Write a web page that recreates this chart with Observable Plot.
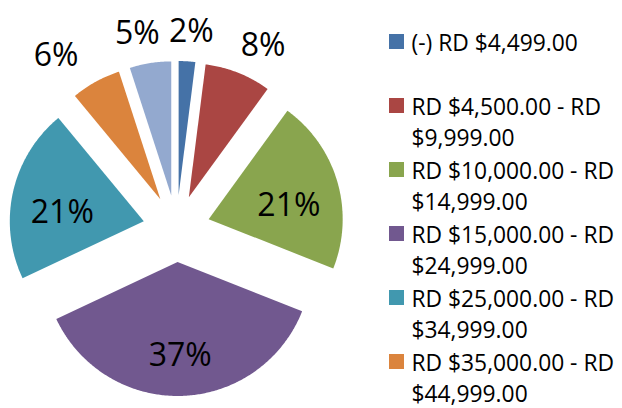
<!DOCTYPE html>
<html><head><meta charset="utf-8">
<script src="https://cdn.jsdelivr.net/npm/d3@7"></script>
<script src="https://cdn.jsdelivr.net/npm/@observablehq/plot@0.6"></script>
<style>html,body{margin:0;padding:0;background:#fff;overflow:hidden}</style>
</head><body><div id="chart"></div>
<script>
// ---- data ----
const categories = [
  "(-) RD $4,499.00",
  "RD $4,500.00 - RD $9,999.00",
  "RD $10,000.00 - RD $14,999.00",
  "RD $15,000.00 - RD $24,999.00",
  "RD $25,000.00 - RD $34,999.00",
  "RD $35,000.00 - RD $44,999.00",
  "(+) RD $45,000.00"
];
const shares = [2, 8, 21, 37, 21, 6, 5];
const colors = ["#4572A7", "#AA4643", "#89A54E", "#71588F", "#4198AF", "#DB843D", "#93A9CF"];
const legendVisible = 6; // the 7th legend entry falls below the visible area

// ---- layout ----
const W = 622, H = 408;
const cx = 176, cy = 228, R = 134, explode = 33.5;
const font = "'Open Sans', sans-serif";

const arcs = d3.pie().sort(null).value(d => d)(shares);

// slice outlines built from the data through d3.pie
const slicePts = [];
arcs.forEach((a, i) => {
  const mid = (a.startAngle + a.endAngle) / 2;
  const tx = cx + explode * Math.sin(mid), ty = cy - explode * Math.cos(mid);
  const key = categories[i];
  slicePts.push({key, x: tx, y: ty});
  const n = Math.max(8, Math.ceil((a.endAngle - a.startAngle) / 0.01));
  for (let k = 0; k <= n; k++) {
    const t = a.startAngle + (a.endAngle - a.startAngle) * k / n;
    slicePts.push({key, x: tx + R * Math.sin(t), y: ty - R * Math.cos(t)});
  }
  slicePts.push({key, x: tx, y: ty});
});

// percentage labels
const labels = arcs.map((a, i) => {
  const mid = (a.startAngle + a.endAngle) / 2;
  const inside = shares[i] >= 10;
  const s = Math.sin(mid);
  const x = inside ? cx + 117 * s : cx + (s < 0 ? 250 : 235) * s;
  const y = inside ? cy - 117 * Math.cos(mid) + 10 : cy - 198 * Math.cos(mid) + 1;
  return {x, y, text: shares[i] + "%"};
});

// legend
const legendRows = categories.slice(0, legendVisible).map((c, i) => ({key: c, i, y: 42.5 + 64 * i}));
const legendLines = [];
legendRows.forEach(r => {
  const cut = r.key.lastIndexOf(" $");
  const parts = r.key.includes(" - ") ? [r.key.slice(0, cut), r.key.slice(cut + 1)] : [r.key];
  parts.forEach((p, j) => legendLines.push({text: p, x: 411, y: r.y + 31 * j + 1}));
});

const chart = Plot.plot({
  width: W, height: H,
  margin: 0,
  x: {domain: [0, W], range: [0, W], axis: null},
  y: {domain: [0, H], range: [0, H], axis: null},
  color: {domain: categories, range: colors},
  style: {background: "#fff"},
  marks: [
    Plot.line(slicePts, {x: "x", y: "y", z: "key", fill: "key", stroke: "none", curve: "linear"}),
    Plot.text(labels, {x: "x", y: "y", text: "text", fontSize: 32, fontFamily: font, fill: "#000", textAnchor: "middle", lineAnchor: "middle"}),
    Plot.rect(legendRows, {x1: () => 389, x2: () => 404, y1: d => d.y - 8.5, y2: d => d.y + 6.5, fill: "key"}),
    Plot.text(legendLines, {x: "x", y: "y", text: "text", fontSize: 22.8, fontFamily: font, fill: "#000", textAnchor: "start", lineAnchor: "middle"})
  ]
});
document.getElementById("chart").append(chart);
</script>
</body></html>
